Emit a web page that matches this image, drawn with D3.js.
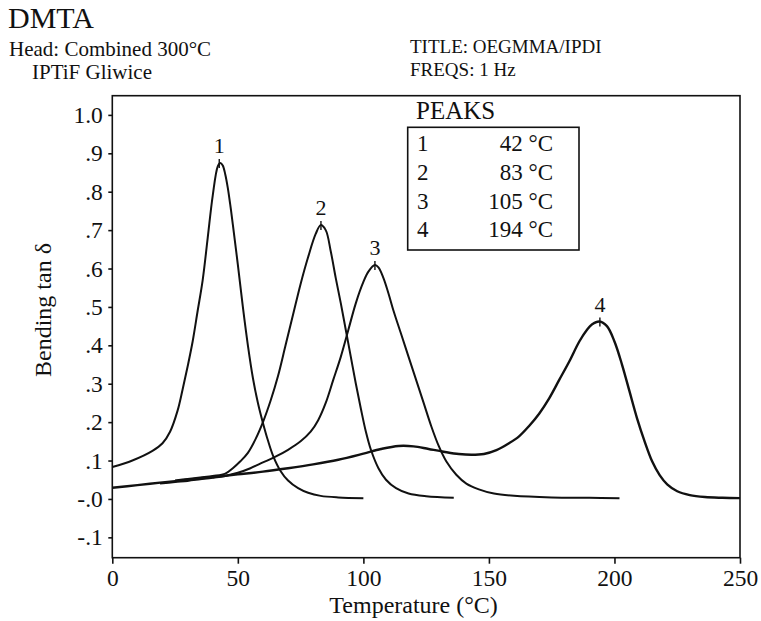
<!DOCTYPE html>
<html>
<head>
<meta charset="utf-8">
<script src="https://cdn.jsdelivr.net/npm/d3@7"></script>
<style>
body { margin: 0; background: #fff; }
text { font-family: "Liberation Serif", "Times New Roman", serif; fill: #111; }
</style>
</head>
<body>
<svg id="chart" width="761" height="621"></svg>
<script>
// curve data (temperature in °C, bending tan delta)
var curve1T = [0, 8, 16, 20, 23, 26, 28, 30, 32, 34, 36, 38, 40, 42, 43, 44, 45, 46, 47, 48, 50, 52, 54, 56, 58, 60, 62, 64, 67, 70, 74, 78, 83, 90, 100];
var curve1V = [0.083, 0.10, 0.125, 0.145, 0.175, 0.23, 0.285, 0.345, 0.41, 0.49, 0.57, 0.68, 0.79, 0.866, 0.875, 0.868, 0.845, 0.81, 0.765, 0.715, 0.61, 0.50, 0.40, 0.315, 0.25, 0.198, 0.152, 0.113, 0.073, 0.048, 0.028, 0.016, 0.008, 0.004, 0.002];

var curve2T = [25, 30, 35, 40, 45, 48, 51, 54, 57, 60, 63, 66, 69, 72, 75, 78, 81, 83, 85, 87, 89, 91, 93, 95, 97, 99, 101, 103, 106, 109, 113, 118, 125, 136];
var curve2V = [0.048, 0.052, 0.056, 0.060, 0.066, 0.080, 0.098, 0.12, 0.155, 0.20, 0.255, 0.32, 0.40, 0.48, 0.56, 0.63, 0.69, 0.713, 0.70, 0.645, 0.575, 0.51, 0.44, 0.37, 0.30, 0.235, 0.175, 0.128, 0.08, 0.05, 0.028, 0.014, 0.007, 0.003];

var curve3T = [19, 25, 30, 35, 40, 45, 50, 55, 60, 65, 70, 75, 79, 82, 85, 88, 91, 94, 97, 100, 102, 104.6, 106, 108, 110, 112, 115, 118, 121, 124, 127, 130, 133, 137, 141, 146, 152, 160, 175, 190, 202];
var curve3V = [0.040, 0.044, 0.047, 0.051, 0.055, 0.060, 0.068, 0.080, 0.095, 0.110, 0.128, 0.150, 0.175, 0.205, 0.25, 0.31, 0.37, 0.44, 0.51, 0.565, 0.592, 0.609, 0.603, 0.575, 0.535, 0.49, 0.43, 0.37, 0.31, 0.25, 0.19, 0.138, 0.098, 0.063, 0.040, 0.025, 0.014, 0.008, 0.004, 0.003, 0.002];

var curve4T = [0, 10, 20, 30, 40, 50, 60, 70, 80, 90, 100, 107, 114, 120, 126, 132, 138, 143, 148, 153, 158, 162, 166, 170, 174, 178, 182, 186, 189, 191, 194, 197, 200, 203, 206, 209, 212, 215, 218, 221, 225, 230, 236, 243, 250];
var curve4V = [0.029, 0.036, 0.043, 0.050, 0.057, 0.064, 0.071, 0.080, 0.090, 0.102, 0.118, 0.130, 0.138, 0.137, 0.130, 0.123, 0.117, 0.115, 0.117, 0.127, 0.145, 0.163, 0.19, 0.222, 0.262, 0.31, 0.358, 0.41, 0.44, 0.454, 0.462, 0.45, 0.41, 0.35, 0.28, 0.21, 0.15, 0.098, 0.062, 0.038, 0.020, 0.010, 0.005, 0.003, 0.002];

// peak markers
var peakNames = ["1", "2", "3", "4"];
var peakT = [42.6, 83.1, 104.6, 194.2];
var peakV = [0.875, 0.713, 0.609, 0.462];
var peakLabels = ["42 °C", "83 °C", "105 °C", "194 °C"];

// axis ticks
var xTicks = [0, 50, 100, 150, 200, 250];
var yTicks = [1.0, 0.9, 0.8, 0.7, 0.6, 0.5, 0.4, 0.3, 0.2, 0.1, 0.0, -0.1];
var yTickLabels = ["1.0", ".9", ".8", ".7", ".6", ".5", ".4", ".3", ".2", ".1", "-.0", "-.1"];

var svg = d3.select('#chart');

var padding = {t: 95.7, r: 21, b: 63.3, l: 112.3};
var chartWidth = +svg.attr('width') - padding.l - padding.r;
var chartHeight = +svg.attr('height') - padding.t - padding.b;

var xScale = d3.scaleLinear().domain([0, 250]).range([0, chartWidth]);
var yScale = d3.scaleLinear().domain([-0.153, 1.05]).range([chartHeight, 0]);

// header texts
svg.append('text').attr('x', 8).attr('y', 28).style('font-size', '30px').text('DMTA');
svg.append('text').attr('x', 9).attr('y', 55.5).style('font-size', '21px').text('Head: Combined 300°C');
svg.append('text').attr('x', 32).attr('y', 79).style('font-size', '21px').text('IPTiF Gliwice');
svg.append('text').attr('x', 410).attr('y', 52.5).style('font-size', '19px').text('TITLE: OEGMMA/IPDI');
svg.append('text').attr('x', 410).attr('y', 75.5).style('font-size', '19px').text('FREQS: 1 Hz');

var chartG = svg.append('g')
    .attr('transform', 'translate(' + [padding.l, padding.t] + ')');

// axes
var yAxisG = chartG.append('g')
    .call(d3.axisLeft(yScale)
        .tickValues(yTicks)
        .tickFormat(function(d, i) { return yTickLabels[i]; })
        .tickSize(4).tickSizeOuter(0).tickPadding(5.5));
var xAxisG = chartG.append('g')
    .attr('transform', 'translate(' + [0, chartHeight] + ')')
    .call(d3.axisBottom(xScale)
        .tickValues(xTicks)
        .tickSize(6).tickSizeOuter(0).tickPadding(6));
[yAxisG, xAxisG].forEach(function(g) {
    g.select('.domain').remove();
    g.selectAll('line').attr('stroke', '#111').attr('stroke-width', 1.6);
    g.selectAll('text').attr('fill', '#111')
        .style('font-family', '"Liberation Serif", serif').style('font-size', '23.5px');
});

// frame
chartG.append('rect')
    .attr('width', chartWidth).attr('height', chartHeight)
    .attr('fill', 'none').attr('stroke', '#111').attr('stroke-width', 1.6);

// axis titles
svg.append('text')
    .attr('transform', 'translate(51,310) rotate(-90)')
    .attr('text-anchor', 'middle')
    .style('font-size', '24px')
    .text('Bending tan δ');
svg.append('text')
    .attr('x', padding.l + xScale(120)).attr('y', 613)
    .attr('text-anchor', 'middle')
    .style('font-size', '24px')
    .text('Temperature (°C)');

// curves
var line = d3.line()
    .x(function(d) { return xScale(d[0]); })
    .y(function(d) { return yScale(d[1]); })
    .curve(d3.curveCatmullRom.alpha(0.5));

var curves = [[curve1T, curve1V], [curve2T, curve2V], [curve3T, curve3V], [curve4T, curve4V]];
chartG.selectAll('.curve')
    .data(curves.map(function(c) { return d3.zip(c[0], c[1]); }))
    .enter().append('path')
    .attr('class', 'curve')
    .attr('d', line)
    .attr('fill', 'none')
    .attr('stroke', '#111')
    .attr('stroke-width', function(d, i) { return i === 3 ? 2.4 : 2; })
    .attr('stroke-linejoin', 'round');

// peak ticks and numbers
var peaks = chartG.selectAll('.peak')
    .data(peakNames)
    .enter().append('g')
    .attr('class', 'peak')
    .attr('transform', function(d, i) {
        return 'translate(' + [xScale(peakT[i]), yScale(peakV[i])] + ')';
    });
peaks.append('line')
    .attr('y1', -4).attr('y2', 5)
    .attr('stroke', '#111').attr('stroke-width', 1.4);
peaks.append('text')
    .attr('y', -10)
    .attr('text-anchor', 'middle')
    .style('font-size', '22px')
    .text(function(d) { return d; });

// peak table
svg.append('text').attr('x', 416).attr('y', 119).style('font-size', '25px').text('PEAKS');
svg.append('rect')
    .attr('x', 407.7).attr('y', 127.3).attr('width', 171.3).attr('height', 122.7)
    .attr('fill', 'none').attr('stroke', '#111').attr('stroke-width', 1.6);
var rows = svg.selectAll('.row')
    .data(peakNames)
    .enter().append('g')
    .attr('class', 'row')
    .attr('transform', function(d, i) { return 'translate(0,' + (151 + i * 28.8) + ')'; });
rows.append('text').attr('x', 417).style('font-size', '23px').text(function(d) { return d; });
rows.append('text').attr('x', 553).attr('text-anchor', 'end').style('font-size', '23px')
    .text(function(d, i) { return peakLabels[i]; });
</script>
</body>
</html>
